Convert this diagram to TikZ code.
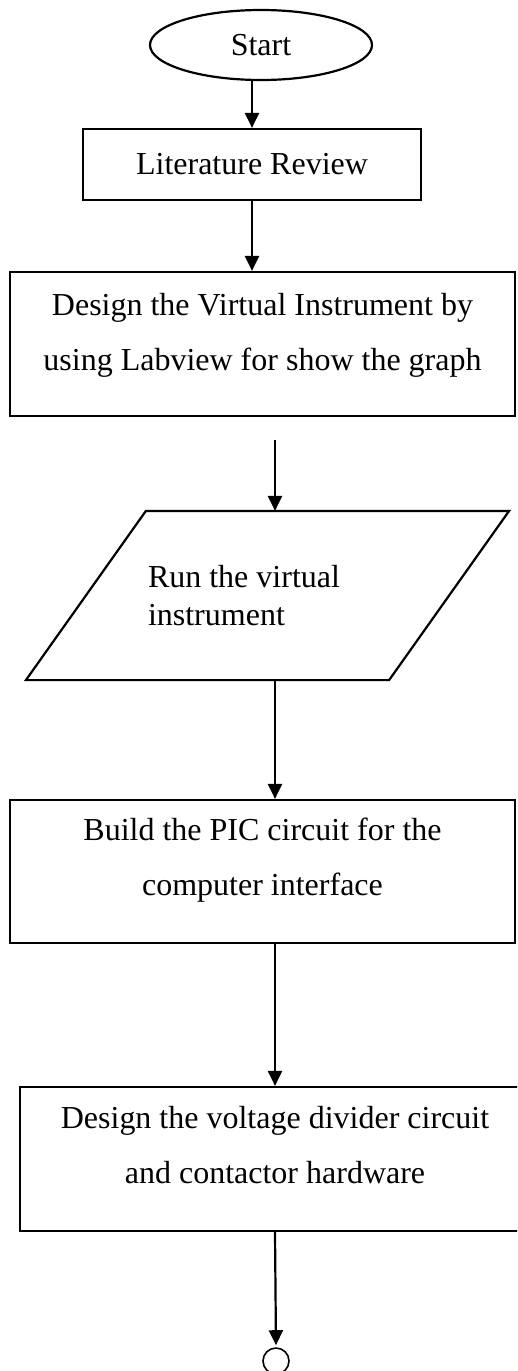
\documentclass[tikz,border=0pt]{standalone}
\usepackage{fontspec}
\setmainfont{Liberation Serif}
\usetikzlibrary{arrows.meta,shapes.geometric}

\tikzset{
  stepbox/.style={draw, rectangle, line width=2.2pt, align=center, inner sep=0pt},
  flow/.style={line width=2.2pt, -{Triangle[length=15pt,width=14pt]}},
}

\begin{document}
\begin{tikzpicture}[x=1pt, y=-1pt, font=\fontsize{32}{55}\selectfont]
  \path[use as bounding box, clip] (0,0) rectangle (517,1371);

  \node[draw, ellipse, line width=2.2pt, minimum width=222pt, minimum height=70pt, inner sep=0pt] (start) at (261,45) {Start};
  \node[stepbox, minimum width=338pt, minimum height=71pt] (lit) at (252,164.5) {Literature Review};
  \node[stepbox, minimum width=505pt, minimum height=144pt, text height=78pt, text depth=26pt] (design) at (262.5,344)
    {Design the Virtual Instrument by\\using Labview for show the graph};
  \node[minimum width=361pt, minimum height=167pt, inner sep=0pt, outer sep=1.1pt,
    text width=239pt, align=flush left, font=\fontsize{32}{38}\selectfont] (run) at (267.5,595.5)
    {Run the virtual\\instrument};
  \draw[line width=2.2pt, line join=miter] ([xshift=60pt]run.north west) -- ([xshift=60pt]run.north east)
    -- ([xshift=-60pt]run.south east) -- ([xshift=-60pt]run.south west) -- cycle;
  \node[stepbox, minimum width=505pt, minimum height=143pt, text height=76pt, text depth=29pt] (build) at (262.5,871.5)
    {Build the PIC circuit for the\\computer interface};
  \node[stepbox, minimum width=510pt, minimum height=144pt, text height=76pt, text depth=28pt] (volt) at (275,1159)
    {Design the voltage divider circuit\\and contactor hardware};
  \node[draw, circle, line width=1.6pt, minimum size=26pt, inner sep=0pt] (finish) at (276,1361) {};

  % connectors
  \coordinate (runin) at (275,440);
  \draw[flow] (lit.north |- start.south) -- (lit.north);
  \draw[flow] (lit.south) -- (lit.south |- design.north);
  \draw[flow] (runin) -- (runin |- run.north);
  \draw[flow] (runin |- run.south) -- (runin |- build.north);
  \draw[flow] (volt.north |- build.south) -- (volt.north);
  \draw[flow, shorten >=2pt] (volt.south) -- (finish.north);
\end{tikzpicture}
\end{document}
